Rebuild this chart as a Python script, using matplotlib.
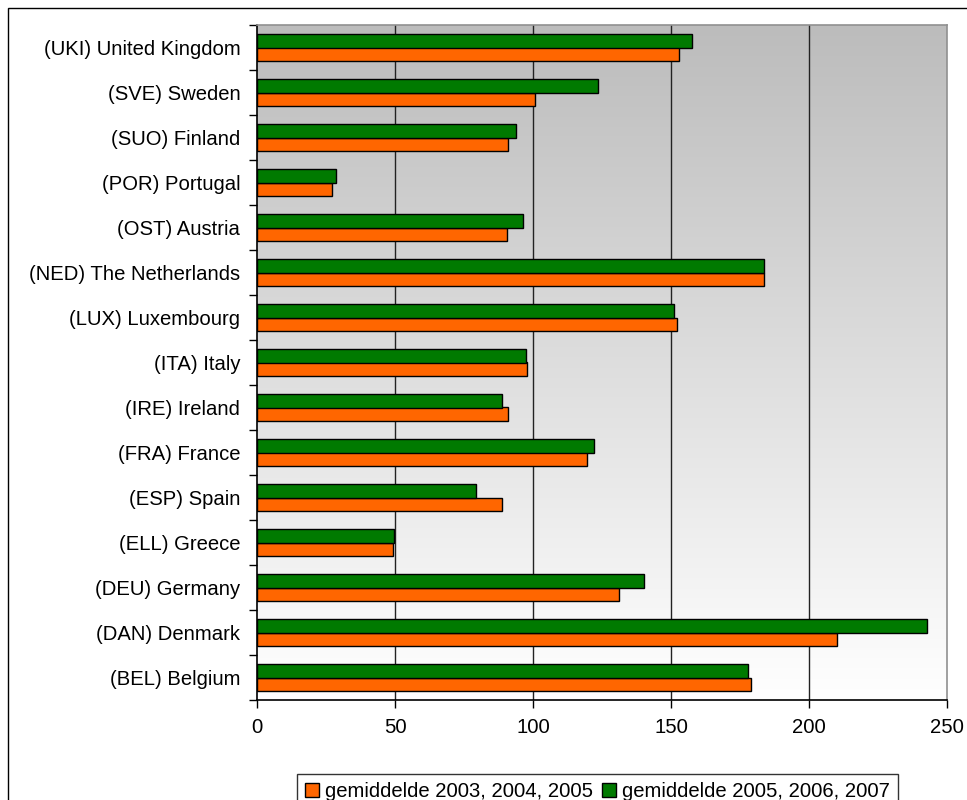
import matplotlib.pyplot as plt
import numpy as np
from matplotlib.patches import Rectangle

plt.rcParams['font.family'] = ['Liberation Sans', 'DejaVu Sans']

# categories from bottom to top
landen = ['(BEL) Belgium', '(DAN) Denmark', '(DEU) Germany', '(ELL) Greece',
          '(ESP) Spain', '(FRA) France', '(IRE) Ireland', '(ITA) Italy',
          '(LUX) Luxembourg', '(NED) The Netherlands', '(OST) Austria',
          '(POR) Portugal', '(SUO) Finland', '(SVE) Sweden', '(UKI) United Kingdom']
gem_2003_2005 = [179.0, 210.3, 131.0, 49.3, 88.6, 119.4, 90.9, 98.0,
                 152.3, 183.8, 90.4, 27.2, 90.9, 100.8, 153.0]
gem_2005_2007 = [177.8, 242.9, 140.2, 49.8, 79.3, 122.2, 88.6, 97.3,
                 151.2, 183.8, 96.4, 28.5, 94.0, 123.5, 157.6]
labels = ['gemiddelde 2003, 2004, 2005', 'gemiddelde 2005, 2006, 2007']

fs = 14.6

fig = plt.figure(figsize=(9.67, 8), dpi=100)
# outer chart border
fig.patches.append(Rectangle((8/967, -0.1), 1.2, 0.1 + 792/800, transform=fig.transFigure,
                             fill=False, edgecolor='black', linewidth=1))
ax = fig.add_axes([257/967, 100/800, 690/967, 675/800])

# gradient background
grad = np.linspace(0, 1, 256).reshape(-1, 1)
ax.imshow(grad, cmap=plt.matplotlib.colors.LinearSegmentedColormap.from_list('g', ['#bcbcbc', '#ffffff']),
          extent=[0, 250, -0.5, len(landen) - 0.5], aspect='auto', zorder=0, origin='upper')

y = np.arange(len(landen))
h = 0.29
ax.barh(y - h / 2, gem_2003_2005, height=h, color='#ff6600', edgecolor='black', linewidth=1,
        label=labels[0], zorder=3)
ax.barh(y + h / 2, gem_2005_2007, height=h, color='#007a00', edgecolor='black', linewidth=1,
        label=labels[1], zorder=3)

ax.set_xlim(0, 250)
ax.set_ylim(-0.5, len(landen) - 0.5)
ax.set_xticks([0, 50, 100, 150, 200, 250])
for gx in [50, 100, 150, 200]:
    ax.axvline(gx, color='#222222', linewidth=1, zorder=1)

ax.set_yticks(y)
ax.set_yticklabels(landen, fontsize=fs)
ax.set_yticks(np.arange(-0.5, len(landen)), minor=True)
ax.tick_params(axis='y', which='major', length=0, pad=12)
ax.tick_params(axis='y', which='minor', length=6, width=1, direction='out')
ax.tick_params(axis='x', labelsize=fs, length=6, width=1, direction='out', pad=7)

ax.spines['left'].set_color('black')
ax.spines['bottom'].set_color('black')
ax.spines['top'].set_color('#909090')
ax.spines['right'].set_color('#909090')
for s in ax.spines.values():
    s.set_linewidth(1.2)

handles, lbls = ax.get_legend_handles_labels()
leg = fig.legend(handles, lbls, loc='lower left', bbox_to_anchor=(297/967, -0.012), ncol=2,
                 frameon=True, fancybox=False, edgecolor='black', fontsize=fs,
                 handlelength=0.7, handleheight=0.7, handletextpad=0.3, columnspacing=0.4,
                 borderpad=0.4, borderaxespad=0)
leg.get_frame().set_linewidth(1)

fig.savefig('out.png', dpi=100)
